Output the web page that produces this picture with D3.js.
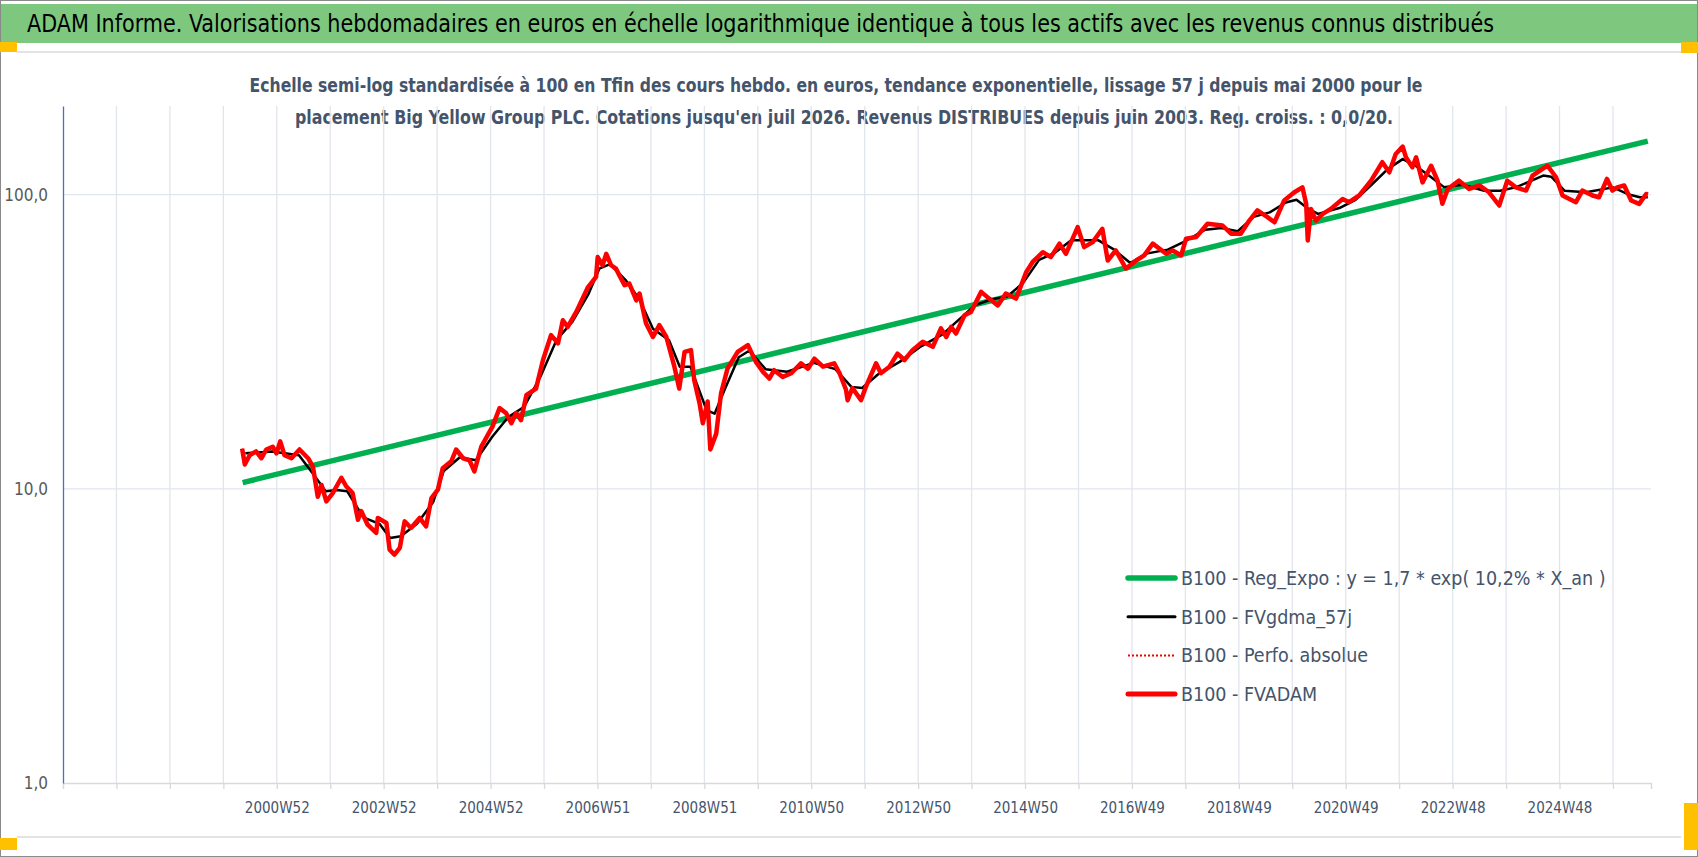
<!DOCTYPE html>
<html>
<head>
<meta charset="utf-8">
<script src="https://cdn.jsdelivr.net/npm/d3@7"></script>
<style>
  body { margin: 0; background: #fff; }
  svg { display: block; font-family: "Liberation Sans Narrow", "DejaVu Sans Condensed", sans-serif; }
</style>
</head>
<body>
<div id="chart"></div>
<script>
// titles
const title = `ADAM Informe. Valorisations hebdomadaires en euros en échelle logarithmique identique à tous les actifs avec les revenus connus distribués`;
const subtitle = [
  `Echelle semi-log standardisée à 100 en Tfin des cours hebdo. en euros, tendance exponentielle, lissage 57 j depuis mai 2000 pour le`,
  `placement Big Yellow Group PLC. Cotations jusqu'en juil 2026. Revenus DISTRIBUES depuis juin 2003. Reg. croiss. : 0,0/20.`,
];

// x axis: one gridline every 52 weeks, a label every 104 weeks from gridline 4
const xTickLabels = [`2000W52`, `2002W52`, `2004W52`, `2006W51`, `2008W51`, `2010W50`, `2012W50`,
  `2014W50`, `2016W49`, `2018W49`, `2020W49`, `2022W48`, `2024W48`];
const yTickValues = [1, 10, 100];
const yTickLabels = [`1,0`, `10,0`, `100,0`];

const legendLabels = [
  `B100 - Reg_Expo : y = 1,7 * exp( 10,2% *  X_an )`,
  `B100 - FVgdma_57j`,
  `B100 - Perfo. absolue`,
  `B100 - FVADAM`,
];

// [decimal year, value]
const fvadam = [
  [2000.34, 13.7], [2000.39, 12.1], [2000.48, 13.0], [2000.60, 13.4], [2000.70, 12.7], [2000.79, 13.6],
  [2000.91, 13.9], [2000.98, 13.2], [2001.05, 14.5], [2001.13, 13.0], [2001.26, 12.7], [2001.41, 13.6],
  [2001.57, 12.7], [2001.66, 11.9], [2001.75, 9.4], [2001.82, 10.3], [2001.91, 9.06], [2002.03, 9.67],
  [2002.19, 10.9], [2002.28, 10.2], [2002.40, 9.67], [2002.50, 7.85], [2002.56, 8.4], [2002.68, 7.55],
  [2002.84, 7.08], [2002.87, 7.96], [2003.03, 7.65], [2003.09, 6.21], [2003.18, 5.97], [2003.28, 6.3],
  [2003.37, 7.75], [2003.49, 7.36], [2003.65, 7.96], [2003.77, 7.45], [2003.87, 9.3], [2003.99, 9.93],
  [2004.08, 11.75], [2004.24, 12.4], [2004.33, 13.6], [2004.46, 12.7], [2004.58, 12.5], [2004.67, 11.45],
  [2004.80, 13.9], [2005.01, 16.3], [2005.14, 18.8], [2005.26, 18.1], [2005.36, 16.7], [2005.45, 18.1],
  [2005.54, 17.1], [2005.64, 20.8], [2005.82, 21.9], [2005.95, 27.4], [2006.10, 33.3], [2006.23, 31.2],
  [2006.32, 37.4], [2006.41, 35.5], [2006.57, 39.9], [2006.79, 48.5], [2006.94, 52.5], [2006.97, 61.3],
  [2007.06, 57.5], [2007.13, 62.9], [2007.22, 57.5], [2007.31, 56.0], [2007.47, 49.2], [2007.56, 49.8],
  [2007.69, 43.7], [2007.75, 46.1], [2007.87, 36.5], [2008.00, 32.8], [2008.12, 36.0], [2008.25, 32.8],
  [2008.40, 26.0], [2008.49, 21.9], [2008.59, 29.2], [2008.71, 29.6], [2008.77, 23.4], [2008.87, 19.5],
  [2008.93, 16.7], [2009.02, 19.8], [2009.07, 13.6], [2009.18, 15.4], [2009.27, 21.1], [2009.39, 25.6],
  [2009.58, 29.2], [2009.77, 30.8], [2009.92, 27.0], [2010.05, 25.0], [2010.17, 23.7], [2010.26, 25.3],
  [2010.42, 24.0], [2010.58, 24.7], [2010.76, 26.7], [2010.89, 25.6], [2011.01, 27.7], [2011.17, 26.0],
  [2011.38, 26.7], [2011.48, 24.7], [2011.60, 21.7], [2011.63, 20.0], [2011.72, 22.0], [2011.88, 20.0],
  [2011.97, 22.2], [2012.16, 26.7], [2012.25, 24.7], [2012.41, 26.0], [2012.56, 28.8], [2012.69, 27.4],
  [2012.84, 29.6], [2013.03, 31.6], [2013.22, 30.4], [2013.37, 35.1], [2013.47, 32.8], [2013.56, 35.5],
  [2013.65, 33.7], [2013.81, 38.9], [2013.93, 39.9], [2014.12, 46.7], [2014.27, 44.3], [2014.43, 42.0],
  [2014.58, 46.1], [2014.77, 44.3], [2014.96, 54.5], [2015.08, 59.0], [2015.27, 63.7], [2015.42, 61.3],
  [2015.58, 68.1], [2015.70, 62.9], [2015.92, 77.5], [2016.04, 66.3], [2016.20, 68.9], [2016.38, 76.5],
  [2016.48, 59.7], [2016.63, 64.6], [2016.82, 56.0], [2017.01, 59.7], [2017.16, 62.1], [2017.32, 68.1],
  [2017.57, 62.9], [2017.69, 64.6], [2017.85, 62.1], [2017.94, 70.8], [2018.13, 71.7], [2018.34, 79.6],
  [2018.62, 78.5], [2018.78, 73.6], [2018.96, 73.6], [2019.12, 81.6], [2019.27, 88.3], [2019.46, 83.8],
  [2019.59, 80.5], [2019.77, 95.5], [2019.96, 101.8], [2020.11, 105.8], [2020.18, 93.0], [2020.21, 69.8],
  [2020.27, 89.4], [2020.36, 81.6], [2020.49, 86.0], [2020.64, 89.4], [2020.86, 96.6], [2020.98, 94.2],
  [2021.17, 99.3], [2021.39, 111.5], [2021.60, 128.8], [2021.73, 119.0], [2021.85, 137.4], [2021.98, 145.5],
  [2022.04, 133.9], [2022.16, 123.8], [2022.23, 133.9], [2022.35, 110.0], [2022.51, 125.3], [2022.63, 111.5],
  [2022.72, 93.0], [2022.82, 104.5], [2023.03, 111.5], [2023.22, 104.5], [2023.41, 107.4], [2023.59, 101.8],
  [2023.78, 91.8], [2023.93, 111.5], [2024.09, 105.8], [2024.28, 103.2], [2024.40, 115.9], [2024.68, 125.3],
  [2024.84, 114.5], [2024.96, 99.3], [2025.21, 94.2], [2025.33, 103.2], [2025.52, 99.3], [2025.64, 97.9],
  [2025.79, 113.0], [2025.89, 103.2], [2025.98, 105.8], [2026.11, 107.4], [2026.24, 95.5], [2026.39, 93.0],
  [2026.52, 100.5], [2026.55, 100.0],
];

const fvgdma57 = [
  [2000.40, 13.2], [2000.90, 13.4], [2001.40, 13.0], [2001.70, 11.0], [2001.90, 9.8], [2002.10, 9.9],
  [2002.30, 9.8], [2002.60, 8.0], [2002.90, 7.6], [2003.10, 6.8], [2003.30, 6.9], [2003.60, 7.6],
  [2003.90, 9.0], [2004.10, 11.5], [2004.40, 12.8], [2004.70, 12.5], [2005.00, 15.0], [2005.30, 17.5],
  [2005.60, 19.0], [2005.90, 24.0], [2006.20, 32.0], [2006.50, 37.0], [2006.80, 46.0], [2007.00, 56.0],
  [2007.20, 58.0], [2007.50, 51.0], [2007.75, 44.0], [2008.00, 35.0], [2008.30, 32.0], [2008.50, 26.0],
  [2008.70, 26.0], [2009.00, 18.5], [2009.15, 18.0], [2009.35, 22.0], [2009.60, 28.0], [2009.80, 29.5],
  [2010.10, 25.5], [2010.50, 25.0], [2011.00, 26.8], [2011.40, 25.5], [2011.70, 22.2], [2011.90, 22.0],
  [2012.20, 24.5], [2012.60, 27.0], [2013.00, 30.5], [2013.40, 33.5], [2013.70, 37.5], [2014.00, 42.0],
  [2014.30, 44.0], [2014.60, 45.0], [2014.90, 50.0], [2015.20, 60.0], [2015.50, 63.5], [2015.80, 70.0],
  [2016.00, 70.0], [2016.30, 70.0], [2016.60, 65.0], [2016.90, 58.5], [2017.20, 63.0], [2017.60, 65.0],
  [2017.90, 69.0], [2018.30, 76.0], [2018.60, 77.0], [2018.90, 75.0], [2019.20, 84.0], [2019.50, 87.0],
  [2019.80, 94.0], [2020.00, 96.0], [2020.20, 90.0], [2020.40, 86.0], [2020.80, 90.0], [2021.10, 96.0],
  [2021.40, 108.0], [2021.70, 122.0], [2021.98, 132.0], [2022.20, 126.0], [2022.50, 115.0], [2022.75, 106.0],
  [2023.10, 108.0], [2023.50, 103.0], [2023.80, 103.0], [2024.10, 106.0], [2024.60, 116.0], [2024.75, 115.0],
  [2025.00, 103.0], [2025.40, 101.8], [2025.90, 105.8], [2026.20, 100.0], [2026.40, 97.9], [2026.55, 98.0],
];

// exponential trend, two ends (straight on a log axis)
const regExpo = [[2000.35, 10.5], [2026.55, 152.0]];

const width = 1698;
const height = 857;
const plot = { left: 63, right: 1651, top: 106, bottom: 783 };
const firstYear = 1997.0;   // week 0 of the category axis
const nWeeks = 1545;
const weekOf = (year) => (year - firstYear) * 365.25 / 7;

const svg = d3.select(`#chart`).append(`svg`)
  .attr(`width`, width)
  .attr(`height`, height);

// frame + title band
svg.append(`rect`).attr(`x`, 0.5).attr(`y`, 0.5).attr(`width`, width - 1).attr(`height`, height - 1)
  .attr(`fill`, `#fff`).attr(`stroke`, `#8a8a8a`);
svg.append(`rect`).attr(`x`, 1).attr(`y`, 4).attr(`width`, width - 2).attr(`height`, 39).attr(`fill`, `#7DC87E`);
svg.append(`text`).attr(`x`, 27).attr(`y`, 32)
  .attr(`textLength`, 1467).attr(`lengthAdjust`, `spacingAndGlyphs`)
  .style(`font-size`, `25px`).style(`fill`, `#000`)
  .text(title);
[52, 837].forEach((y) => {
  svg.append(`line`).attr(`x1`, 17).attr(`x2`, width - 17).attr(`y1`, y).attr(`y2`, y)
    .attr(`stroke`, `#e3e3e3`).attr(`stroke-width`, 2);
});
// selection handles
[[0, 42, 17, 10], [1681, 42, 17, 11], [0, 838, 17, 12], [1684, 803, 14, 47]].forEach(([x, y, w, h]) => {
  svg.append(`rect`).attr(`x`, x).attr(`y`, y).attr(`width`, w).attr(`height`, h).attr(`fill`, `#FFC000`);
});

const subtitleBox = [{ cx: 836, len: 1173 }, { cx: 844, len: 1098 }];
subtitle.forEach((s, i) => {
  svg.append(`text`).attr(`x`, subtitleBox[i].cx).attr(`y`, 92 + i * 32)
    .attr(`text-anchor`, `middle`)
    .attr(`textLength`, subtitleBox[i].len).attr(`lengthAdjust`, `spacingAndGlyphs`)
    .style(`font-size`, `20px`).style(`font-weight`, `bold`).style(`fill`, `#44546A`)
    .text(s);
});

// scales
const xScale = d3.scaleLinear().domain([0, nWeeks]).range([plot.left, plot.right]);
const yScale = d3.scaleLog().domain([1, 200]).range([plot.bottom, plot.top]);

const gridWeeks = d3.range(1, 30).map((k) => k * 52);

// gridlines
const grid = svg.append(`g`);
grid.selectAll(`.vg`).data(gridWeeks).enter().append(`line`)
  .attr(`x1`, (d) => xScale(d)).attr(`x2`, (d) => xScale(d))
  .attr(`y1`, plot.top).attr(`y2`, plot.bottom)
  .attr(`stroke`, `#e1e5ec`).attr(`stroke-width`, 1.3);
grid.selectAll(`.hg`).data(yTickValues.slice(1)).enter().append(`line`)
  .attr(`x1`, plot.left).attr(`x2`, plot.right)
  .attr(`y1`, (d) => yScale(d)).attr(`y2`, (d) => yScale(d))
  .attr(`stroke`, `#e1e5ec`).attr(`stroke-width`, 1.3);

// x axis
const xAxis = svg.append(`g`)
  .attr(`transform`, `translate(0, ${plot.bottom})`)
  .call(d3.axisBottom(xScale)
    .tickValues(gridWeeks)
    .tickSize(6)
    .tickPadding(13)
    .tickFormat((d) => {
      const k = d / 52;
      return k >= 4 && k % 2 === 0 ? xTickLabels[(k - 4) / 2] : ``;
    }));
xAxis.select(`.domain`).attr(`stroke`, `#d9d9d9`).attr(`stroke-width`, 1.5);
xAxis.selectAll(`.tick line`).attr(`stroke`, `#d9d9d9`).attr(`stroke-width`, 1.3);
xAxis.selectAll(`.tick text`)
  .style(`font-size`, `15px`).style(`fill`, `#44546A`)
  .style(`font-family`, `"Liberation Sans Narrow", "DejaVu Sans Condensed", sans-serif`);

// y axis
const yAxis = svg.append(`g`)
  .attr(`transform`, `translate(${plot.left}, 0)`)
  .call(d3.axisLeft(yScale)
    .tickValues(yTickValues)
    .tickSize(0)
    .tickPadding(15)
    .tickFormat((d, i) => yTickLabels[i]));
yAxis.select(`.domain`).attr(`stroke`, `#4472C4`).attr(`stroke-width`, 1.3);
yAxis.selectAll(`.tick text`)
  .style(`font-size`, `17px`).style(`fill`, `#595959`)
  .style(`font-family`, `"Liberation Sans Narrow", "DejaVu Sans Condensed", sans-serif`);

// series
const line = d3.line()
  .x((d) => xScale(weekOf(d[0])))
  .y((d) => yScale(d[1]));

const series = svg.append(`g`);
series.append(`path`).attr(`d`, line(regExpo))
  .attr(`fill`, `none`).attr(`stroke`, `#00B050`).attr(`stroke-width`, 5.5);
series.append(`path`).attr(`d`, line(fvgdma57))
  .attr(`fill`, `none`).attr(`stroke`, `#000`).attr(`stroke-width`, 2.5)
  .attr(`stroke-linejoin`, `round`);
series.append(`path`).attr(`d`, line(fvadam))
  .attr(`fill`, `none`).attr(`stroke`, `#FF0000`).attr(`stroke-width`, 4.5)
  .attr(`stroke-linejoin`, `round`);
series.append(`path`).attr(`d`, line(fvadam))
  .attr(`fill`, `none`).attr(`stroke`, `#FF0000`).attr(`stroke-width`, 1.5)
  .attr(`stroke-dasharray`, `2,2`);

// legend
const legendStyles = [
  { stroke: `#00B050`, width: 5.5, dash: null },
  { stroke: `#000`, width: 3, dash: null },
  { stroke: `#FF0000`, width: 2, dash: `2,2` },
  { stroke: `#FF0000`, width: 5, dash: null },
];
const legend = svg.append(`g`).attr(`transform`, `translate(1128, 578)`);
legendLabels.forEach((label, i) => {
  const g = legend.append(`g`).attr(`transform`, `translate(0, ${i * 38.7})`);
  g.append(`line`).attr(`x1`, 0).attr(`x2`, 47).attr(`y1`, 0).attr(`y2`, 0)
    .attr(`stroke`, legendStyles[i].stroke)
    .attr(`stroke-width`, legendStyles[i].width)
    .attr(`stroke-linecap`, legendStyles[i].dash ? `butt` : `round`)
    .attr(`stroke-dasharray`, legendStyles[i].dash);
  g.append(`text`).attr(`x`, 53).attr(`y`, 0).attr(`dy`, `0.35em`)
    .style(`font-size`, `19.5px`).style(`fill`, `#44546A`)
    .text(label);
});
</script>
</body>
</html>
